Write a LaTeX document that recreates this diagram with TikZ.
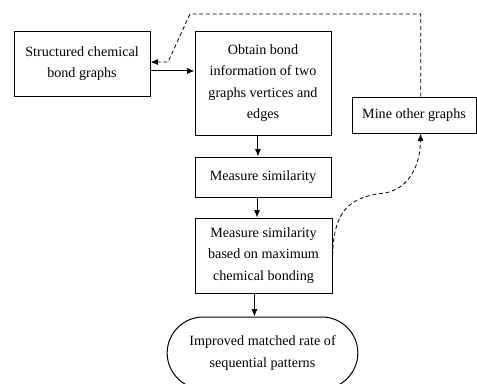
\documentclass[tikz,border=0pt]{standalone}
\usepackage{fontspec}
\setmainfont{Liberation Serif}
\usetikzlibrary{arrows.meta,shapes.misc}
\begin{document}
\begin{tikzpicture}[x=0.75pt,y=-0.75pt,
  box/.style={draw,line width=0.75pt,align=center,inner sep=0pt,
    font=\fontsize{10.6pt}{16pt}\selectfont},
  arr/.style={line width=0.75pt,-{Latex[length=5.5pt,width=4.5pt]}},
  dsh/.style={line width=0.6pt,dash pattern=on 3pt off 2pt,-{Latex[length=5.5pt,width=4.5pt]}}]
\useasboundingbox (0,0) rectangle (477,383);
\node[box,minimum width=102pt,minimum height=48.75pt] (b1) at (82,63.5) {Structured chemical\\bond graphs};
\node[box,minimum width=102pt,minimum height=78pt] (b2) at (263,83) {Obtain bond\\information of two\\graphs vertices and\\edges};
\node[box,minimum width=102pt,minimum height=30pt] (b3) at (263,177) {Measure similarity};
\node[box,minimum width=102.75pt,minimum height=56.25pt] (b4) at (263.5,255.5) {Measure similarity\\based on maximum\\chemical bonding};
\node[box,minimum width=93pt,minimum height=27pt] (mine) at (414,115) {Mine other graphs};
\node[box,rounded rectangle,minimum width=143pt,minimum height=54pt] (end) at (262.5,353) {Improved matched rate of\\sequential patterns};
% solid arrows
\coordinate (s1) at ([yshift=-5.6pt]b1.east);
\draw[arr] (s1) -- (s1 -| b2.west);
\coordinate (a2) at ([xshift=-3.8pt]b2.south);
\draw[arr] (a2) -- (a2 |- b3.north);
\coordinate (a3) at ([xshift=-4.5pt]b3.south);
\draw[arr] (a3) -- (a3 |- b4.north);
\coordinate (a4) at ([xshift=-6.8pt]b4.south);
\draw[arr] (a4) -- (a4 |- end.north);
% dashed feedback
\coordinate (m1) at ([xshift=5pt]mine.north);
\coordinate (t1) at (190,14);
\coordinate (t2) at (168,62);
\draw[dsh] (m1) |- (t1) -- (t2) -- (t2 -| b1.east);
\coordinate (m2) at ([xshift=5pt]mine.south);
\coordinate (c1) at (385,193);
\draw[dsh] (b4.east) .. controls (334,215) and (345,197) .. (c1) .. controls (410,188) and (420,165) .. (m2);
\end{tikzpicture}
\end{document}
